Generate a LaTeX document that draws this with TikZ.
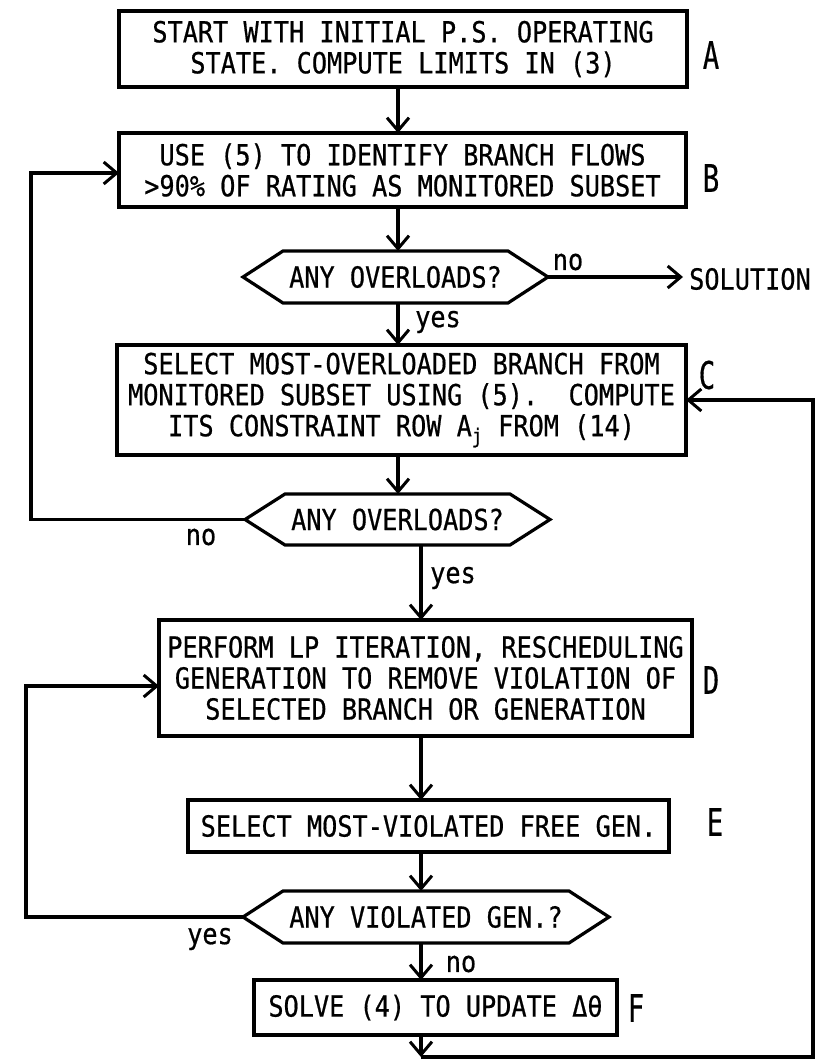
\documentclass[tikz,border=0pt]{standalone}
\usepackage{fontspec}
\setmainfont{DejaVu Sans Mono}[FakeStretch=0.87,FakeBold=0.6]
\newfontfamily\tagfamily{DejaVu Sans Mono}[FakeStretch=0.72,FakeBold=0.4]
\usetikzlibrary{arrows.meta,calc}
\newcommand\boxfont{\fontsize{29pt}{31pt}\selectfont\frenchspacing}
\newcommand\tagfont{\tagfamily\fontsize{38pt}{40pt}\selectfont}
% hexagonal decision outline around a node, corners cut by #2
\newcommand\hexborder[2]{%
  \draw[line] ($(#1.north west)+(#2,0)$) -- ($(#1.north east)+(-#2,0)$) -- (#1.east)
    -- ($(#1.south east)+(-#2,0)$) -- ($(#1.south west)+(#2,0)$) -- (#1.west) -- cycle;}
\begin{document}
\begin{tikzpicture}[x=1pt,y=-1pt,
  line/.style={line width=3.2pt, line join=miter},
  arr/.style={line, -{Straight Barb[length=13pt,width=22pt,line width=3pt]}},
  procbox/.style={draw, line width=3.2pt, inner sep=0pt, outer sep=0pt, align=center, font=\boxfont},
  decbox/.style={inner sep=0pt, outer sep=0pt, align=center, font=\boxfont},
  tag/.style={inner sep=0pt, font=\tagfont},
  note/.style={inner sep=0pt, font=\boxfont}]
\useasboundingbox (0,0) rectangle (818,1064);

% columns of the vertical connectors and the return lines
\coordinate (colL) at (398,0);
\coordinate (colR) at (421,0);
\coordinate (leftA) at (31,0);
\coordinate (leftB) at (26,0);
\coordinate (rightX) at (813,0);
\coordinate (solX) at (683,0);
\coordinate (bot) at (421,1057);

% process boxes
\node[procbox, minimum width=568pt, minimum height=76pt] (A) at (403,49)
  {START WITH INITIAL P.S. OPERATING\\STATE. COMPUTE LIMITS IN (3)};
\node[procbox, minimum width=567pt, minimum height=74pt] (B) at (402.5,170)
  {USE (5) TO IDENTIFY BRANCH FLOWS\\>90\% OF RATING AS MONITORED SUBSET};
\node[procbox, minimum width=569pt, minimum height=110pt] (C) at (401.5,400)
  {SELECT MOST-OVERLOADED BRANCH FROM\\MONITORED SUBSET USING (5).~~COMPUTE\\ITS CONSTRAINT ROW A\textsubscript{j} FROM (14)};
\node[procbox, minimum width=533pt, minimum height=116pt] (D) at (425.5,678)
  {PERFORM LP ITERATION, RESCHEDULING\\GENERATION TO REMOVE VIOLATION OF\\SELECTED BRANCH OR GENERATION};
\node[procbox, minimum width=481pt, minimum height=52pt] (E) at (428.5,826)
  {SELECT MOST-VIOLATED FREE GEN.};
\node[procbox, minimum width=363pt, minimum height=55pt] (F) at (435.5,1007.5)
  {SOLVE (4) TO UPDATE Δθ};

% decisions
\node[decbox, minimum width=305pt, minimum height=52pt] (d1) at (395.5,277) {ANY OVERLOADS?};
\hexborder{d1}{40}
\node[decbox, minimum width=305pt, minimum height=51pt] (d2) at (397.5,519.5) {ANY OVERLOADS?};
\hexborder{d2}{40}
\node[decbox, minimum width=366pt, minimum height=52pt] (d3) at (426,917) {ANY VIOLATED GEN.?};
\hexborder{d3}{40}

\node[note, anchor=west] (sol) at (689,279) {SOLUTION};

% step letters
\node[tag] (tA) at (711,55) {A};
\node[tag] (tB) at (711,178) {B};
\node[tag] (tC) at (707,375) {C};
\node[tag] (tD) at (711,680) {D};
\node[tag] (tE) at (715,822) {E};
\node[tag] (tF) at (636,1008) {F};

% main flow
\draw[arr] (A.south -| colL) -- (B.north -| colL);
\draw[arr] (B.south -| colL) -- (d1.north -| colL);
\draw[arr] (d1.east) -- (d1.east -| solX);
\node[note] (n1) at (568,262) {no};
\draw[arr] (d1.south -| colL) -- (C.north -| colL);
\node[note] (y1) at (438,322) {yes};
\draw[arr] (C.south -| colL) -- (d2.north -| colL);
\draw[arr] (d2.west) -- (d2.west -| leftA) |- ([yshift=-3pt]B.west);
\node[note] (n2) at (201,537) {no};
\draw[arr] (d2.south -| colR) -- (D.north -| colR);
\node[note] (y2) at (453,578) {yes};
\draw[arr] (D.south -| colR) -- (E.north -| colR);
\draw[arr] (E.south -| colR) -- (d3.north -| colR);
\draw[arr] (d3.west) -- (d3.west -| leftB) |- ([yshift=-8pt]D.west);
\node[note] (y3) at (210,939) {yes};
\draw[arr] (d3.south -| colR) -- (F.north -| colR);
\node[note] (n3) at (461,964) {no};
\draw[arr] (F.south -| colR) -- (bot);
\draw[arr] (bot) -- (bot -| rightX) |- (C.east);
\end{tikzpicture}
\end{document}
